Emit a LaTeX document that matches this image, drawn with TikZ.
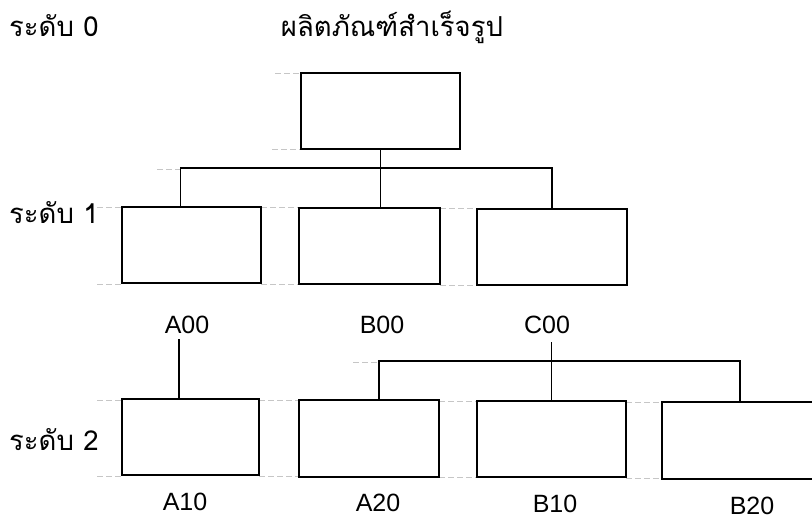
\documentclass[tikz,border=0pt]{standalone}
\usepackage{fontspec}
\setmainfont{Liberation Sans}
\newfontfamily\thaifont[Script=Thai]{Loma}
\begin{document}
\begin{tikzpicture}[x=1pt,y=-1pt,
  box/.style 2 args={draw, line width=2.1pt, inner sep=0pt, minimum width=#1pt, minimum height=#2pt},
  conn/.style={draw, line width=1.6pt},
  guide/.style={draw=gray!45, line width=0.6pt, dash pattern=on 6pt off 3pt},
  lat/.style={anchor=base, inner sep=0pt, font=\fontsize{25}{30}\selectfont},
  thai/.style={anchor=base west, inner sep=0pt, font=\thaifont\fontsize{27.5}{32}\selectfont}]
\useasboundingbox (0,0) rectangle (812,519);
\clip (0,0) rectangle (812,519);
% faint guide lines
\draw[guide] (275,73) -- (301,73);
\draw[guide] (272,149) -- (301,149);
\draw[guide] (157,169) -- (181,169);
\draw[guide] (97,207) -- (122,207) (261,207) -- (299,207) (440,208) -- (477,208);
\draw[guide] (97,284) -- (122,284) (261,284) -- (299,284) (440,285) -- (477,285);
\draw[guide] (353,362) -- (380,362);
\draw[guide] (97,400) -- (122,400) (259,400) -- (299,400) (439,401) -- (477,401) (626,402) -- (662,402);
\draw[guide] (97,476) -- (122,476) (259,476) -- (299,476) (439,477) -- (477,477) (626,478) -- (662,478);
% level texts
\node[thai] (lv0) at (9,37) {ระดับ 0};
\node[thai] (lv1) at (9,223) {ระดับ 1};
\node[thai] (lv2) at (9,450) {ระดับ 2};
\node[thai, anchor=base] (title) at (392,37) {ผลิตภัณฑ์สำเร็จรูป};
% boxes
\node[box={159}{76}] (top) at (380.5,111) {};
\node[box={139}{76}] (A00) at (191.5,245) {};
\node[box={141}{76}] (B00) at (369.5,246) {};
\node[box={150}{76}] (C00) at (552,247) {};
\node[box={137}{76}] (A10) at (190.5,437) {};
\node[box={140}{77}] (A20) at (369,438.5) {};
\node[box={149}{76}] (B10) at (551.5,439) {};
\node[box={168}{77}] (B20) at (746,440.5) {};
% labels
\node[lat] (lA00) at (187,333) {A00};
\node[lat] (lB00) at (382,333) {B00};
\node[lat] (lC00) at (547,333) {C00};
\node[lat] (lA10) at (185,510) {A10};
\node[lat] (lA20) at (378,511) {A20};
\node[lat] (lB10) at (555,512) {B10};
\node[lat] (lB20) at (752,514) {B20};
% connectors
\coordinate (a00t) at ([xshift=59.5pt]A00.north west);
\coordinate (a10t) at ([xshift=58pt]A10.north west);
\coordinate (a20t) at ([xshift=81pt]A20.north west);
\coordinate (b20t) at ([xshift=79pt]B20.north west);
\draw[conn] (top.south) -- (top.south |- B00.north);
\draw[conn] (a00t) -- ++(0,-38) -| (C00.north);
\draw[conn] (a10t) -- ++(0,-59);
\draw[conn] (B10.north) -- ++(0,-58);
\draw[conn] (a20t) -- ++(0,-38) -| (b20t);
\end{tikzpicture}
\end{document}
